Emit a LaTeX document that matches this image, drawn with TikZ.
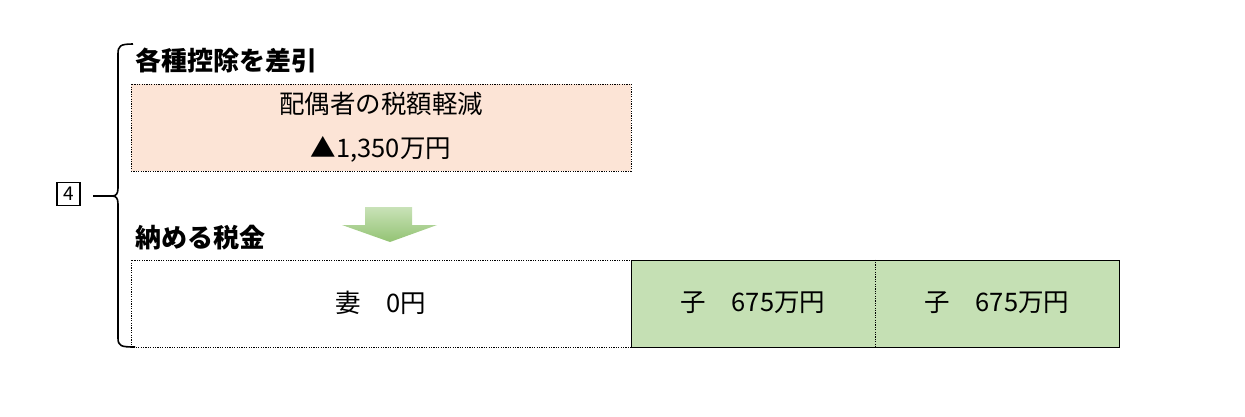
\documentclass[tikz,border=0pt]{standalone}
\usepackage{fontspec}
\setmainfont{Noto Sans CJK JP}
\definecolor{pinkfill}{HTML}{FCE4D6}
\definecolor{greenfill}{HTML}{C5E0B4}
\definecolor{arrowtop}{HTML}{C9E2B8}
\definecolor{arrowbot}{HTML}{93C373}
\begin{document}
\begin{tikzpicture}[x=1pt,y=-1pt,
  dotbox/.style={draw=black, line width=0.7pt, dash pattern=on 1.2pt off 1.2pt},
  heading/.style={anchor=west, font=\fontsize{26}{28}\selectfont\bfseries, inner sep=0pt},
  bodytext/.style={font=\fontsize{25.5}{28}\selectfont, inner sep=0pt},
  numbox/.style={draw=black, line width=1.3pt, minimum width=23pt, minimum height=23pt, inner sep=0pt, font=\fontsize{19}{20}\selectfont}
]
\useasboundingbox (0,0) rectangle (1245,416);
% headings
\node[heading] (h1) at (135,60) {各種控除を差引};
\node[heading] (h2) at (135,238) {納める税金};
% pink box
\node[dotbox, fill=pinkfill, minimum width=500pt, minimum height=87pt, inner sep=0pt] (pink) at (381,127.5) {};
\node[bodytext] (t1) at (381,104) {配偶者の税額軽減};
\node[bodytext] (t2) at (381,149) {▲1,350万円};
% arrow
\shade[top color=arrowtop, bottom color=arrowbot] (365,207) -- (412,207) -- (412,225) -- (437,225) -- (390,242) -- (342,225) -- (365,225) -- cycle;
% bottom boxes
\node[fill=greenfill, minimum width=488pt, minimum height=87pt, inner sep=0pt, draw=black, line width=0.8pt] (kids) at (875,303.5) {};
\node[dotbox, fill=white, minimum width=500pt, minimum height=87pt, inner sep=0pt] (wife) at (381,303.5) {};
\draw[dotbox] (kids.north) -- (kids.south);
\node[bodytext] (tw) at (381,303) {妻\hspace{1em}0円};
\node[bodytext] (tk1) at (753,303) {子\hspace{1em}675万円};
\node[bodytext] (tk2) at (997,303) {子\hspace{1em}675万円};
% bracket
\node[numbox] (num) at (68.5,194) {4};
\coordinate (bt) at (133,44);
\coordinate (bb) at (135,347);
\coordinate (bm) at (112,196);
\coordinate (lend) at (93,196);
\draw[line width=1.6pt] (bt) .. controls (120,44) and (118,46) .. (118,54) -- (118,188) .. controls (118,194) and (116,196) .. (bm) .. controls (116,196) and (118,198) .. (118,204) -- (118,338) .. controls (118,346) and (121,347) .. (bb);
\draw[line width=1.4pt] (lend) -- (bm);
\end{tikzpicture}
\end{document}
